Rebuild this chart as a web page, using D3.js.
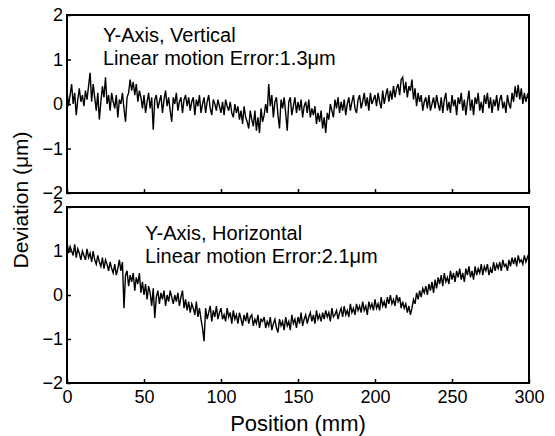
<!DOCTYPE html>
<html>
<head>
<meta charset="utf-8">
<script src="https://cdn.jsdelivr.net/npm/d3@7"></script>
<style>
  body { margin: 0; background: #fff; }
  svg { display: block; font-family: "Liberation Sans", Arial, sans-serif; }
  .frame { fill: none; stroke: #000; stroke-width: 2; }
  .axis path { display: none; }
  .axis line { stroke: #000; stroke-width: 1.5; }
  .axis text { font-size: 18px; fill: #000; }
  .trace { fill: none; stroke: #000; stroke-width: 1.4; }
</style>
</head>
<body>
<svg id="chart" width="555" height="436"></svg>
<script>
// positions sampled every 1 mm, 0..300
var xStep = 1;
var xTicks = [0, 50, 100, 150, 200, 250, 300];
var yTicks = [-2, -1, 0, 1, 2];

// Y-Axis, Vertical (um)
var vertical = [
  0.30, -0.05, 0.20, 0.45, 0.00, 0.25, -0.25, 0.10, 0.35, 0.05,
  0.20, -0.05, 0.30, 0.10, 0.40, 0.70, 0.05, 0.45, 0.15, -0.15,
  0.25, -0.35, 0.05, 0.40, 0.15, 0.60, 0.00, 0.20, -0.15, 0.25,
  0.05, -0.10, 0.20, -0.30, 0.10, 0.00, 0.25, -0.10, -0.40, 0.15,
  0.25, 0.55, 0.30, 0.50, 0.20, 0.45, 0.05, 0.30, 0.15, -0.10,
  0.20, -0.20, 0.05, 0.25, -0.10, 0.15, -0.58, 0.10, 0.20, -0.10,
  0.05, 0.20, -0.20, 0.10, 0.30, -0.05, 0.15, -0.15, -0.40, 0.15,
  0.00, 0.25, -0.15, 0.05, 0.15, -0.20, 0.10, 0.20, -0.05, 0.15,
  -0.15, 0.05, 0.15, -0.25, 0.10, -0.05, 0.20, -0.20, 0.00, 0.15,
  -0.20, 0.05, 0.20, -0.10, -0.25, 0.10, 0.00, -0.15, 0.10, -0.05,
  -0.20, 0.05, -0.25, 0.10, -0.05, -0.15, 0.05, -0.20, -0.30, 0.00,
  -0.20, -0.05, -0.35, -0.15, -0.45, -0.05, -0.30, -0.40, -0.55, -0.15,
  -0.35, -0.50, -0.15, -0.60, -0.30, -0.65, -0.10, -0.40, -0.25, 0.00,
  -0.20, 0.45, -0.05, 0.20, -0.30, 0.05, 0.15, -0.25, -0.55, 0.10,
  -0.10, 0.15, -0.20, -0.60, 0.05, 0.15, -0.25, -0.05, 0.15, -0.20,
  0.05, -0.15, 0.10, -0.30, -0.05, 0.05, -0.20, 0.10, -0.30, -0.10,
  -0.25, -0.05, -0.45, -0.20, -0.40, -0.15, -0.55, -0.30, -0.65, -0.20,
  -0.35, 0.00, -0.15, -0.30, 0.10, -0.10, 0.15, -0.20, 0.05, -0.15,
  0.10, -0.25, 0.00, 0.15, -0.15, 0.05, 0.20, -0.10, -0.20, 0.10,
  0.20, -0.10, 0.05, 0.25, -0.05, 0.15, -0.15, 0.25, 0.00, 0.10,
  0.20, -0.05, 0.25, 0.05, -0.10, 0.30, 0.00, 0.20, 0.35, 0.05,
  0.30, 0.10, 0.40, 0.15, 0.35, 0.45, 0.20, 0.55, 0.60, 0.25,
  0.50, 0.15, 0.40, 0.30, 0.55, 0.10, 0.35, -0.05, 0.25, 0.05,
  0.20, -0.15, 0.05, 0.15, -0.10, 0.20, -0.15, 0.00, 0.15, -0.10,
  0.20, 0.00, -0.15, 0.15, -0.20, 0.10, 0.25, -0.15, 0.05, -0.20,
  0.20, -0.05, 0.10, -0.25, 0.15, 0.00, 0.25, -0.15, 0.10, -0.25,
  0.05, 0.30, -0.15, 0.10, -0.25, 0.15, 0.00, 0.25, -0.15, 0.05,
  -0.20, 0.20, 0.00, 0.25, -0.10, 0.15, -0.20, 0.10, -0.05, 0.20,
  -0.15, 0.10, 0.20, -0.10, 0.05, -0.20, 0.20, 0.00, -0.10, 0.25,
  0.05, 0.40, 0.15, 0.43, 0.10, 0.35, 0.00, 0.25, 0.05, 0.20,
  0.10
];

// Y-Axis, Horizontal (um)
var horizontal = [
  1.20, 0.95, 1.10, 1.00, 0.90, 1.15, 0.85, 1.05, 0.95, 0.80,
  1.00, 0.90, 0.80, 1.05, 0.85, 0.95, 0.75, 1.00, 0.80, 0.70,
  0.90, 0.75, 0.65, 0.85, 0.60, 0.80, 0.70, 0.55, 0.75, 0.60,
  0.50, 0.70, 0.45, 0.60, 0.80, 0.55, 0.75, -0.30, 0.45, 0.55,
  0.20, 0.45, 0.30, 0.50, 0.10, 0.40, 0.25, 0.50, 0.05, 0.30,
  0.00, 0.25, -0.10, 0.20, 0.05, -0.25, 0.15, -0.52, -0.05, 0.10,
  -0.20, 0.05, -0.10, 0.10, -0.25, 0.00, -0.15, 0.10, -0.05, -0.20,
  0.00, -0.15, 0.05, -0.25, -0.05, 0.10, -0.30, -0.10, -0.35, -0.15,
  -0.40, -0.20, -0.30, -0.45, -0.15, -0.50, -0.30, -0.55, -0.75, -1.05,
  -0.30, -0.55, -0.40, -0.25, -0.60, -0.35, -0.50, -0.25, -0.55, -0.40,
  -0.30, -0.55, -0.45, -0.60, -0.30, -0.50, -0.40, -0.65, -0.35, -0.55,
  -0.45, -0.65, -0.40, -0.55, -0.70, -0.45, -0.60, -0.40, -0.65, -0.50,
  -0.45, -0.70, -0.55, -0.65, -0.45, -0.75, -0.55, -0.60, -0.50, -0.75,
  -0.60, -0.70, -0.50, -0.80, -0.65, -0.55, -0.75, -0.85, -0.55, -0.70,
  -0.60, -0.80, -0.50, -0.70, -0.60, -0.80, -0.45, -0.65, -0.55, -0.75,
  -0.50, -0.65, -0.40, -0.70, -0.55, -0.45, -0.65, -0.50, -0.40, -0.60,
  -0.45, -0.65, -0.35, -0.55, -0.45, -0.60, -0.40, -0.55, -0.35, -0.50,
  -0.40, -0.60, -0.30, -0.50, -0.45, -0.35, -0.55, -0.40, -0.30, -0.50,
  -0.25, -0.45, -0.35, -0.50, -0.20, -0.40, -0.30, -0.45, -0.20, -0.35,
  -0.25, -0.40, -0.15, -0.35, -0.25, -0.45, -0.15, -0.30, -0.20, -0.35,
  -0.10, -0.30, -0.20, -0.35, -0.05, -0.25, -0.15, -0.30, -0.05, -0.20,
  0.00, -0.20, -0.10, -0.25, 0.00, -0.15, -0.05, -0.30, -0.15, -0.30,
  -0.20, -0.40, -0.25, -0.45, -0.30, -0.10, -0.20, 0.05, -0.10, 0.10,
  -0.05, 0.15, 0.05, 0.20, 0.00, 0.25, 0.10, 0.30, 0.05, 0.35,
  0.15, 0.40, 0.25, 0.45, 0.20, 0.50, 0.30, 0.40, 0.25, 0.55,
  0.35, 0.50, 0.30, 0.55, 0.40, 0.60, 0.35, 0.50, 0.30, 0.60,
  0.45, 0.65, 0.40, 0.55, 0.35, 0.65, 0.45, 0.60, 0.50, 0.70,
  0.45, 0.65, 0.55, 0.70, 0.45, 0.60, 0.50, 0.75, 0.55, 0.70,
  0.60, 0.75, 0.55, 0.80, 0.65, 0.70, 0.55, 0.80, 0.65, 0.85,
  0.70, 0.85, 0.65, 0.90, 0.75, 0.80, 0.70, 0.90, 0.75, 0.85,
  0.95
];

var panels = [
  {top: 15, bottom: 193, data: vertical, title: "Y-Axis, Vertical",
   note: "Linear motion Error:1.3\u03bcm", tx: 103, ty: 42, labels: false},
  {top: 207, bottom: 383, data: horizontal, title: "Y-Axis, Horizontal",
   note: "Linear motion Error:2.1\u03bcm", tx: 145, ty: 240, labels: true}
];

var svg = d3.select("#chart"),
    left = 67,
    right = 529;

var x = d3.scaleLinear().domain([0, 300]).range([left, right]);

panels.forEach(function(p, i) {
    var y = d3.scaleLinear().domain([-2, 2]).range([p.bottom, p.top]);
    var g = svg.append("g").attr("class", "panel");

    g.append("clipPath")
        .attr("id", "clip" + i)
        .append("rect")
        .attr("x", left).attr("y", p.top)
        .attr("width", right - left).attr("height", p.bottom - p.top);

    var line = d3.line()
        .x(function(d, j) { return x(j * xStep); })
        .y(function(d) { return y(d); });

    g.append("path")
        .datum(p.data)
        .attr("class", "trace")
        .attr("clip-path", "url(#clip" + i + ")")
        .attr("d", line);

    g.append("g")
        .attr("class", "axis")
        .attr("transform", "translate(0," + p.bottom + ")")
        .call(d3.axisBottom(x)
            .tickValues(xTicks)
            .tickSizeInner(-4)
            .tickSizeOuter(0)
            .tickPadding(7)
            .tickFormat(p.labels ? d3.format("d") : function() { return ""; }));

    g.append("g")
        .attr("class", "axis")
        .attr("transform", "translate(" + left + ",0)")
        .call(d3.axisLeft(y)
            .tickValues(yTicks)
            .tickSizeInner(-4)
            .tickSizeOuter(0)
            .tickPadding(4)
            .tickFormat(d3.format("d")));

    g.append("rect")
        .attr("class", "frame")
        .attr("x", left).attr("y", p.top)
        .attr("width", right - left).attr("height", p.bottom - p.top);

    g.append("text")
        .attr("x", p.tx).attr("y", p.ty)
        .attr("font-size", 20)
        .text(p.title);
    g.append("text")
        .attr("x", p.tx).attr("y", p.ty + 23)
        .attr("font-size", 20)
        .text(p.note);
});

svg.append("text")
    .attr("text-anchor", "middle")
    .attr("x", (left + right) / 2)
    .attr("y", 431)
    .attr("font-size", 22)
    .text("Position  (mm)");

svg.append("text")
    .attr("text-anchor", "middle")
    .attr("transform", "translate(28,200) rotate(-90)")
    .attr("font-size", 21)
    .text("Deviation (\u03bcm)");
</script>
</body>
</html>
